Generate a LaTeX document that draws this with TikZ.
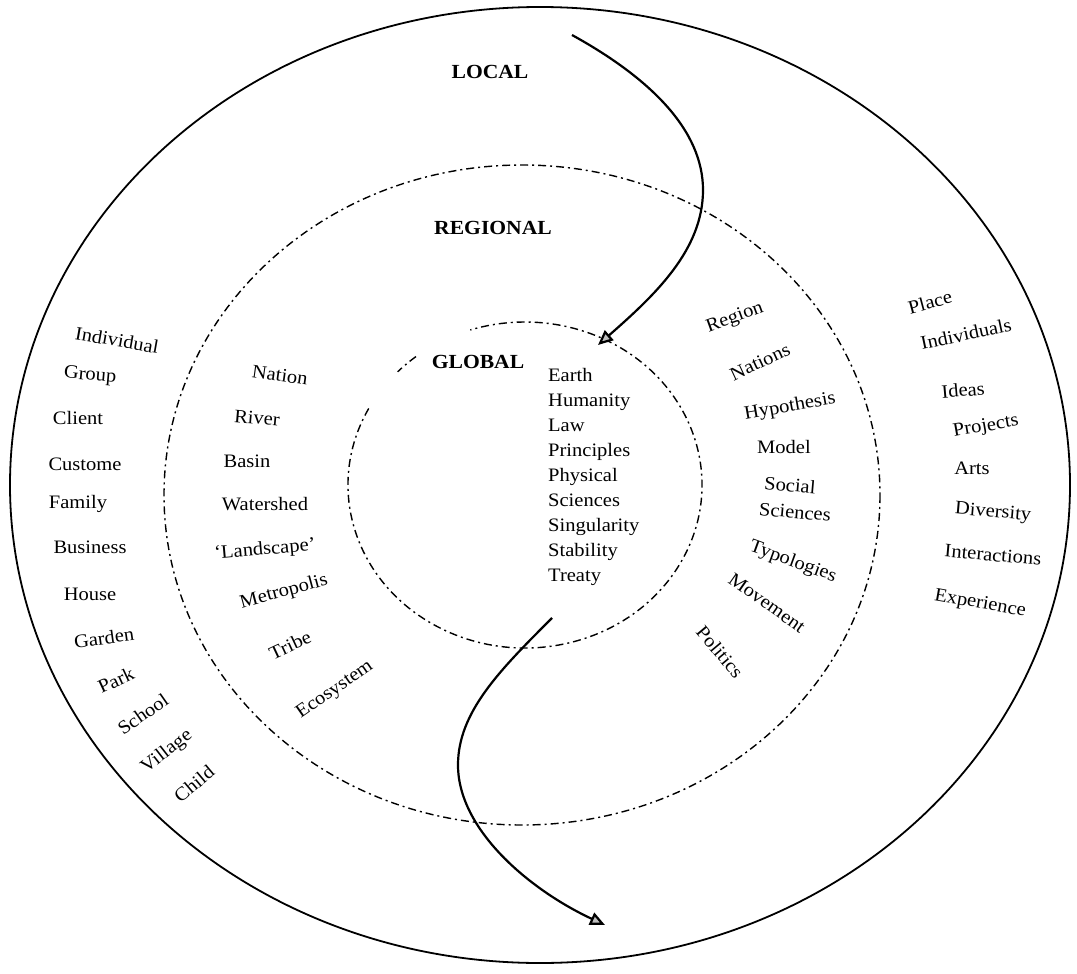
\documentclass[tikz,border=0pt]{standalone}
\usepackage{fontspec}
\setmainfont{Liberation Serif}[FakeStretch=1.08]
\usetikzlibrary{arrows.meta}
\tikzset{
  item/.style={inner sep=0pt, font=\fontsize{19}{25}\selectfont},
  title/.style={inner sep=1pt, font=\fontsize{20}{22}\selectfont\bfseries},
  ring/.style={line width=1.8pt},
  dashring/.style={line width=1.4pt, dash pattern=on 8pt off 4pt on 2pt off 4pt},
  flow/.style={line width=2.2pt, -{Triangle[open, length=15pt, width=13pt, fill=gray!50]}}
}
\begin{document}
\begin{tikzpicture}[x=1pt,y=-1pt]
\useasboundingbox (0,0) rectangle (1077,974);
% rings
\draw[ring] (540,485) ellipse [x radius=530, y radius=478];
\draw[dashring] (522,495) ellipse [x radius=358, y radius=330];
\draw[dashring] (525+177*cos 152, 485-163*sin 152) arc [start angle=152, end angle=468, x radius=177, y radius=-163];
\draw[dashring] (525+177*cos 128, 485-163*sin 128) arc [start angle=128, end angle=136, x radius=177, y radius=-163];
% titles
\node[title] (local) at (490,72) {LOCAL};
\node[title] (regional) at (493,228) {REGIONAL};
\node[title] (global) at (478,362) {GLOBAL};
% centre list
\node[item, anchor=north west, align=left] (core) at (548,368) {Earth\\Humanity\\Law\\Principles\\Physical\\Sciences\\Singularity\\Stability\\Treaty};
% left outer
\node[item, rotate=-10] (l1) at (117,340) {Individual};
\node[item, rotate=-5] (l2) at (90,376) {Group};
\node[item] (l3) at (78,418) {Client};
\node[item] (l4) at (85,464) {Custome};
\node[item] (l5) at (78,504) {Family};
\node[item] (l6) at (90,547) {Business};
\node[item] (l7) at (90,594) {House};
\node[item, rotate=8] (l8) at (104,638) {Garden};
\node[item, rotate=25] (l9) at (116,680) {Park};
\node[item, rotate=35] (l10) at (143,714) {School};
\node[item, rotate=38] (l11) at (167,752) {Village};
\node[item, rotate=40] (l12) at (194,784) {Child};
% left middle
\node[item, rotate=-8] (m1) at (280,375) {Nation};
\node[item, rotate=-5] (m2) at (257,418) {River};
\node[item] (m3) at (247,461) {Basin};
\node[item] (m4) at (265,504) {Watershed};
\node[item, rotate=5] (m5) at (265,550) {`Landscape'};
\node[item, rotate=15] (m6) at (284,592) {Metropolis};
\node[item, rotate=25] (m7) at (290,645) {Tribe};
\node[item, rotate=35] (m8) at (335,690) {Ecosystem};
% right middle
\node[item, rotate=20] (r1) at (735,318) {Region};
\node[item, rotate=25] (r2) at (760,362) {Nations};
\node[item, rotate=10] (r3) at (790,407) {Hypothesis};
\node[item] (r4) at (784,447) {Model};
\node[item, rotate=-5] (r5) at (790,485) {Social};
\node[item, rotate=-5] (r6) at (795,512) {Sciences};
\node[item, rotate=-20] (r7) at (793,562) {Typologies};
\node[item, rotate=-35] (r8) at (767,603) {Movement};
\node[item, rotate=-50] (r9) at (720,652) {Politics};
% right outer
\node[item, rotate=15] (o1) at (930,302) {Place};
\node[item, rotate=12] (o2) at (966,334) {Individuals};
\node[item, rotate=5] (o3) at (963,390) {Ideas};
\node[item, rotate=10] (o4) at (986,427) {Projects};
\node[item] (o5) at (972,468) {Arts};
\node[item, rotate=-5] (o6) at (993,513) {Diversity};
\node[item, rotate=-5] (o7) at (993,555) {Interactions};
\node[item, rotate=-10] (o8) at (980,604) {Experience};
% arrows
\coordinate (a1s) at (572,35);
\coordinate (a1m) at (703,190);
\coordinate (a1e) at (598,345);
\coordinate (a2s) at (552,618);
\coordinate (a2m) at (458,765);
\coordinate (a2e) at (605,925);
\draw[flow] (a1s) .. controls (650,78) and (703,130) .. (a1m) .. controls (703,250) and (655,295) .. (a1e);
\draw[flow] (a2s) .. controls (500,670) and (458,712) .. (a2m) .. controls (458,830) and (530,890) .. (a2e);
\end{tikzpicture}
\end{document}
